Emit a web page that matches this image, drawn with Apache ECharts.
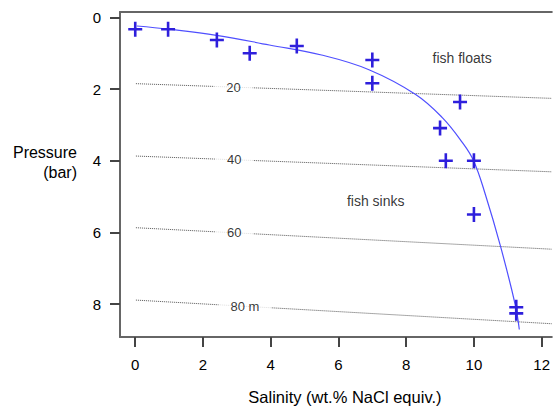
<!DOCTYPE html>
<html>
<head>
<meta charset="utf-8">
<script src="https://cdn.jsdelivr.net/npm/echarts@6/dist/echarts.min.js"></script>
<style>
  html, body { margin: 0; padding: 0; background: #fff; }
  #chart { width: 553px; height: 410px; }
</style>
</head>
<body>
<div id="chart"></div>
<script>
// measured inclusions: salinity (wt.%) vs pressure (bar)
var salinity = [0, 0.97, 2.41, 3.38, 4.77, 7.0, 7.0, 9.59, 9.0, 9.17, 10.0, 10.0, 11.25, 11.25];
var pressure = [0.33, 0.33, 0.63, 1.0, 0.8, 1.19, 1.84, 2.36, 3.09, 4.0, 4.0, 5.5, 8.09, 8.26];

// neutral buoyancy curve
var curveX = [0.05, 1.0, 2.4, 3.96, 5.5, 6.9, 8.28, 9.06, 9.65, 9.99, 10.34, 10.78, 11.22, 11.34];
var curveY = [0.24, 0.33, 0.5, 0.77, 1.05, 1.46, 2.15, 2.79, 3.48, 4.0, 4.95, 6.37, 8.02, 8.71];

// depth contours: pressure at left end and right end, label
var depthLabels = ['20', '40', '60', '80 m'];
var depthStart = [1.85, 3.87, 5.87, 7.89];
var depthEnd = [2.26, 4.31, 6.47, 8.55];
var depthLabelX = [2.9, 2.92, 2.92, 3.24];

var xTicks = [0, 2, 4, 6, 8, 10, 12];
var yTicks = [0, 2, 4, 6, 8];

var xMin = -0.45, xMax = 12.3;
var axisColor = '#666';
var font = 'Liberation Sans, Arial, Helvetica, sans-serif';

var chart = echarts.init(document.getElementById('chart'), null, { renderer: 'svg' });

var series = [];

// dotted depth lines
for (var i = 0; i < depthLabels.length; i++) {
    series.push({
        type: 'line',
        data: [[0.02, depthStart[i]], [xMax, depthEnd[i]]],
        symbol: 'none',
        silent: true,
        z: 1,
        lineStyle: { color: '#555', width: 1, type: [1, 1] }
    });
}

// depth labels, white box hides the line behind them
var labelData = depthLabels.map(function (t, i) {
    var y = depthStart[i] + (depthEnd[i] - depthStart[i]) * (depthLabelX[i] - 0.02) / (xMax - 0.02);
    return { value: [depthLabelX[i], y], name: t };
});
series.push({
    type: 'scatter',
    data: labelData,
    symbolSize: 0,
    silent: true,
    z: 3,
    label: {
        show: true,
        position: 'inside',
        formatter: '{b}',
        color: '#000',
        fontSize: 13,
        fontFamily: font,
        backgroundColor: '#fff',
        padding: [3, 12]
    }
});

series.push({
    type: 'line',
    data: curveX.map(function (x, i) { return [x, curveY[i]]; }),
    smooth: 0.4,
    symbol: 'none',
    z: 4,
    lineStyle: { color: '#4f4fff', width: 1.2 }
});

series.push({
    type: 'scatter',
    data: salinity.map(function (x, i) { return [x, pressure[i]]; }),
    symbol: 'path://M-1.3,-7.5H1.3V-1.3H7V1.3H1.3V7.5H-1.3V1.3H-7V-1.3H-1.3Z',
    symbolSize: [14, 15],
    z: 5,
    itemStyle: { color: '#2e1fdc', opacity: 1 }
});

// region labels
series.push({
    type: 'scatter',
    data: [{ value: [9.65, 1.14], name: 'fish floats' }, { value: [7.1, 5.13], name: 'fish sinks' }],
    symbolSize: 0,
    silent: true,
    z: 6,
    label: {
        show: true,
        position: 'inside',
        formatter: '{b}',
        color: '#000',
        fontSize: 14,
        fontFamily: font
    }
});

var option = {
    animation: false,
    backgroundColor: '#fff',
    grid: { left: 120, right: 0, top: 12, bottom: 69 },
    xAxis: [{
        type: 'value',
        min: xMin,
        max: xMax,
        name: 'Salinity (wt.% NaCl equiv.)',
        nameLocation: 'middle',
        nameGap: 51,
        nameTextStyle: { color: '#000', fontSize: 16.5, fontFamily: font, padding: [0, 0, 0, 18] },
        axisLine: { show: true, onZero: false, lineStyle: { color: axisColor, width: 2 } },
        axisTick: { show: true, length: 10, customValues: xTicks, lineStyle: { color: '#444', width: 2 } },
        axisLabel: { customValues: xTicks, margin: 20, color: '#000', fontSize: 15, fontFamily: font },
        splitLine: { show: false }
    }, {
        type: 'value',
        position: 'top',
        min: xMin,
        max: xMax,
        axisLine: { show: true, onZero: false, lineStyle: { color: axisColor, width: 2 } },
        axisTick: { show: false },
        axisLabel: { show: false },
        splitLine: { show: false }
    }],
    yAxis: {
        type: 'value',
        inverse: true,
        min: -0.15,
        max: 8.92,
        axisLine: { show: true, onZero: false, lineStyle: { color: axisColor, width: 2 } },
        axisTick: { show: true, length: 10, customValues: yTicks, lineStyle: { color: '#444', width: 2 } },
        axisLabel: { customValues: yTicks, margin: 19, color: '#000', fontSize: 15, fontFamily: font },
        splitLine: { show: false }
    },
    graphic: [{
        type: 'text',
        x: 77,
        y: 162,
        style: {
            text: 'Pressure\n(bar)',
            align: 'right',
            verticalAlign: 'middle',
            lineHeight: 20,
            fill: '#000',
            font: '16px ' + font
        }
    }],
    series: series
};

chart.setOption(option);
</script>
</body>
</html>
